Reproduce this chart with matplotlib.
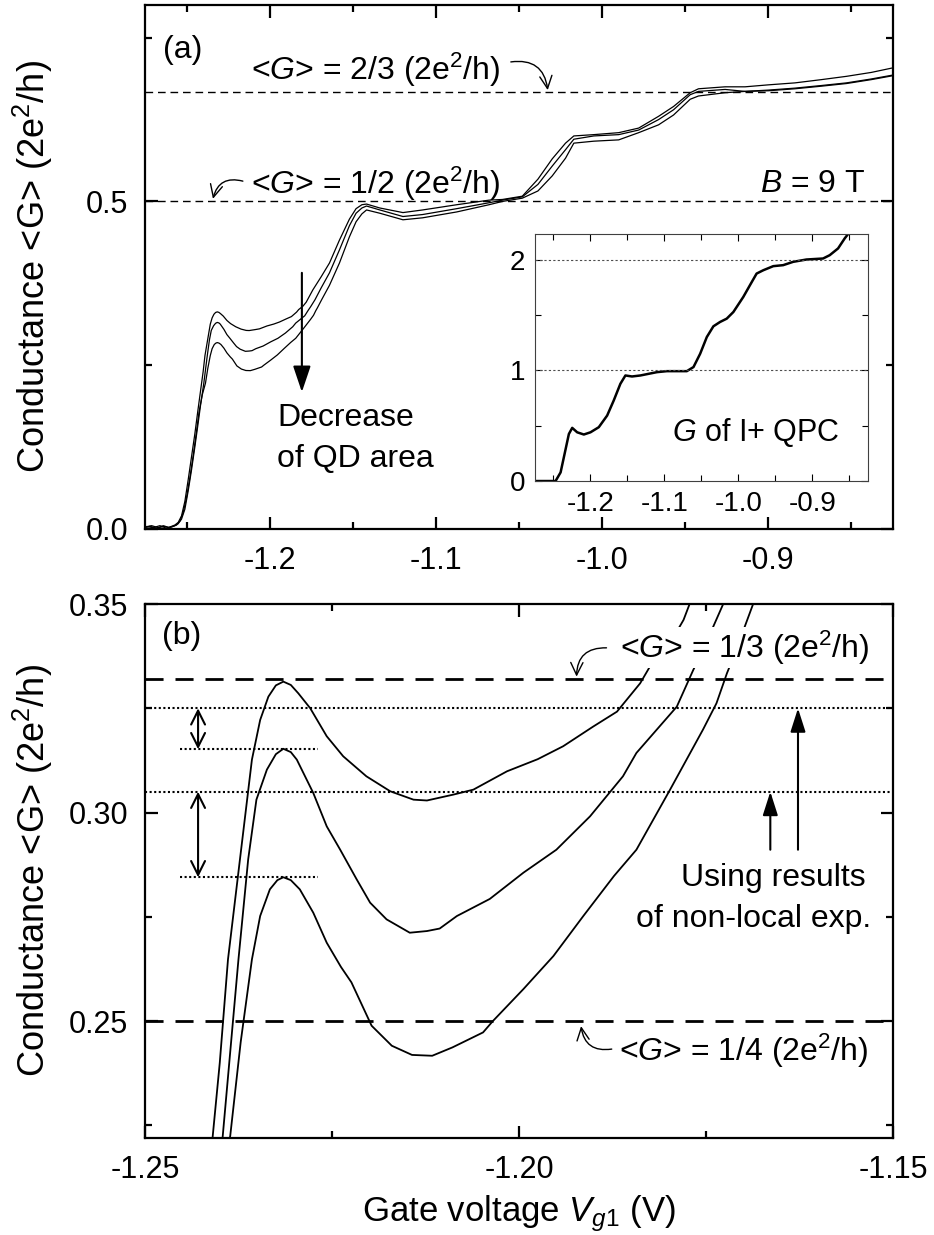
import numpy as np
import matplotlib.pyplot as plt
from matplotlib.ticker import FormatStrFormatter

plt.rcParams['font.family'] = ['Liberation Sans', 'DejaVu Sans']
plt.rcParams['mathtext.fontset'] = 'custom'
plt.rcParams['mathtext.rm'] = 'Liberation Sans'
plt.rcParams['mathtext.it'] = 'Liberation Sans:italic'
plt.rcParams['axes.unicode_minus'] = False

# ---- data ----
# three QD traces (gate voltage V, conductance in 2e^2/h)
v_top = [-1.275, -1.270, -1.266, -1.262, -1.259, -1.257, -1.255, -1.253, -1.251, -1.249,
         -1.247, -1.245, -1.2432, -1.2415, -1.2400, -1.2389, -1.2373, -1.2357, -1.2346, -1.2335,
         -1.2325, -1.2315, -1.2305, -1.2295, -1.2279, -1.2257, -1.2235, -1.2204, -1.2172, -1.2141,
         -1.2123, -1.2088, -1.2061, -1.2016, -1.1975, -1.1941, -1.1901, -1.1869, -1.1838, -1.1825,
         -1.1800, -1.1780, -1.174, -1.169, -1.164, -1.158, -1.152, -1.148, -1.1445, -1.1417,
         -1.1337, -1.1198, -1.108, -1.0874, -1.068, -1.060, -1.048, -1.0386, -1.030, -1.022,
         -1.017, -1.005, -0.990, -0.978, -0.966, -0.957, -0.947, -0.942, -0.926, -0.914,
         -0.900, -0.884, -0.868, -0.853, -0.838, -0.825]
g_top = [0.004, 0.002, 0.005, 0.001, 0.004, 0.006, 0.010, 0.020, 0.042, 0.075,
         0.110, 0.145, 0.180, 0.212, 0.240, 0.2648, 0.2888, 0.3127, 0.3222, 0.3278,
         0.3305, 0.3314, 0.3306, 0.3286, 0.3250, 0.3183, 0.3135, 0.3087, 0.3051, 0.3031,
         0.3029, 0.3043, 0.3055, 0.3099, 0.3128, 0.3159, 0.3206, 0.3242, 0.3310, 0.3350,
         0.340, 0.3462, 0.365, 0.385, 0.406, 0.441, 0.473, 0.489, 0.495, 0.496,
         0.490, 0.483, 0.487, 0.495, 0.502, 0.503, 0.508, 0.534, 0.565, 0.589,
         0.600, 0.602, 0.605, 0.612, 0.630, 0.645, 0.666, 0.672, 0.675, 0.675,
         0.678, 0.681, 0.686, 0.691, 0.697, 0.704]

v_mid = [-1.275, -1.271, -1.267, -1.263, -1.260, -1.257, -1.255, -1.253, -1.251, -1.249,
         -1.247, -1.245, -1.2432, -1.2415, -1.2396, -1.2375, -1.2362, -1.2351, -1.2337, -1.2325,
         -1.2315, -1.2305, -1.2297, -1.2275, -1.2257, -1.2239, -1.2217, -1.2199, -1.2177, -1.2146,
         -1.2123, -1.2106, -1.2083, -1.2039, -1.1994, -1.1950, -1.1905, -1.1861, -1.1843, -1.1789,
         -1.1767, -1.1754, -1.1727, -1.169, -1.164, -1.158, -1.152, -1.148, -1.1445, -1.1417,
         -1.1337, -1.1198, -1.108, -1.0874, -1.068, -1.060, -1.048, -1.0386, -1.030, -1.022,
         -1.017, -1.005, -0.990, -0.978, -0.966, -0.957, -0.947, -0.942, -0.926, -0.914,
         -0.900, -0.884, -0.868, -0.853, -0.838, -0.825]
g_mid = [0.003, 0.005, 0.002, 0.004, 0.002, 0.005, 0.008, 0.015, 0.030, 0.058,
         0.090, 0.125, 0.158, 0.190, 0.2225, 0.2648, 0.2888, 0.3031, 0.3103, 0.3140,
         0.3153, 0.3145, 0.3127, 0.3047, 0.2967, 0.2911, 0.2840, 0.2784, 0.2744, 0.2712,
         0.2716, 0.2722, 0.2752, 0.2793, 0.2856, 0.2911, 0.2991, 0.3087, 0.3143, 0.3254,
         0.3342, 0.3390, 0.350, 0.368, 0.391, 0.426, 0.463, 0.482, 0.490, 0.493,
         0.487, 0.477, 0.480, 0.489, 0.498, 0.502, 0.507, 0.526, 0.554, 0.579,
         0.595, 0.600, 0.602, 0.609, 0.625, 0.640, 0.663, 0.668, 0.671, 0.668,
         0.670, 0.673, 0.677, 0.681, 0.687, 0.693]

v_bot = [-1.275, -1.272, -1.268, -1.264, -1.261, -1.258, -1.256, -1.254, -1.252, -1.250,
         -1.248, -1.246, -1.2442, -1.2425, -1.2405, -1.2386, -1.2372, -1.2357, -1.2346, -1.2333,
         -1.2323, -1.2315, -1.2305, -1.2293, -1.2275, -1.2257, -1.2238, -1.2224, -1.2197, -1.2170,
         -1.2143, -1.2116, -1.2089, -1.2048, -1.2035, -1.1994, -1.1954, -1.1914, -1.1873, -1.1843,
         -1.1798, -1.1754, -1.1736, -1.1722, -1.1713, -1.1687, -1.164, -1.158, -1.152, -1.148,
         -1.1445, -1.1417, -1.1337, -1.1198, -1.108, -1.0874, -1.068, -1.060, -1.048, -1.0386,
         -1.030, -1.022, -1.017, -1.005, -0.990, -0.978, -0.966, -0.957, -0.947, -0.942,
         -0.926, -0.914, -0.900, -0.884, -0.868, -0.853, -0.838, -0.825]
g_bot = [0.002, 0.004, 0.001, 0.005, 0.002, 0.004, 0.006, 0.012, 0.025, 0.048,
         0.078, 0.112, 0.145, 0.178, 0.205, 0.2225, 0.245, 0.2648, 0.2752, 0.2816,
         0.2838, 0.2845, 0.2838, 0.2816, 0.2760, 0.2688, 0.2630, 0.2593, 0.2489, 0.2441,
         0.2419, 0.2417, 0.2437, 0.2473, 0.2500, 0.2577, 0.2656, 0.2752, 0.2848, 0.2911,
         0.3055, 0.3199, 0.3262, 0.3334, 0.3374, 0.350, 0.372, 0.406, 0.446, 0.469,
         0.481, 0.487, 0.482, 0.472, 0.475, 0.484, 0.495, 0.500, 0.505, 0.516,
         0.539, 0.566, 0.589, 0.592, 0.594, 0.605, 0.617, 0.632, 0.656, 0.661,
         0.666, 0.668, 0.669, 0.672, 0.676, 0.680, 0.686, 0.692]

# inset: G of I+ QPC
v_qpc = [-1.274, -1.2472, -1.2404, -1.2292, -1.2247, -1.218, -1.209, -1.200, -1.1888, -1.1775,
         -1.1686, -1.1596, -1.1528, -1.1439, -1.1326, -1.1102, -1.0967, -1.0698, -1.0608, -1.0518,
         -1.0428, -1.0339, -1.0249, -1.0159, -1.0069, -0.9935, -0.9845, -0.9755, -0.9665, -0.9530,
         -0.9396, -0.9261, -0.9081, -0.8857, -0.8767, -0.8654, -0.8565, -0.852]
g_qpc = [0.0, 0.0, 0.078, 0.425, 0.48, 0.44, 0.42, 0.44, 0.486, 0.591,
         0.727, 0.878, 0.953, 0.944, 0.953, 0.983, 0.992, 0.992, 1.029, 1.149,
         1.300, 1.397, 1.436, 1.466, 1.526, 1.662, 1.768, 1.873, 1.903, 1.940,
         1.949, 1.979, 2.000, 2.009, 2.039, 2.100, 2.190, 2.229]

# reference levels
g_frac_a = [2 / 3, 1 / 2]
g_frac_b = [0.332, 0.25]
g_peak_lines = [0.325, 0.305]
g_peak_short = [0.3152, 0.2845]
g_qpc_lines = [1, 2]

xt_a = [-1.2, -1.1, -1.0, -0.9]
xt_a_minor = [-1.25, -1.15, -1.05, -0.95, -0.85]
yt_a = [0.0, 0.5]
yt_a_minor = [0.25, 0.75]
xt_b = [-1.25, -1.20, -1.15]
xt_b_minor = [-1.225, -1.175]
yt_b = [0.25, 0.30, 0.35]
yt_b_minor = [0.225, 0.275, 0.325]
yt_in = [0, 1, 2]
yt_in_minor = [0.5, 1.5]

FS = 23
TICK = 22
LAB = 26


def style(ax, lmaj, lmin, lw, size, pad):
    ax.tick_params(which='both', direction='in', top=True, right=True,
                   width=lw, labelsize=size, pad=pad)
    ax.tick_params(which='major', length=lmaj)
    ax.tick_params(which='minor', length=lmin)
    for s in ax.spines.values():
        s.set_linewidth(lw)


def curved(ax, tip, start, rad):
    ax.annotate('', xy=tip, xytext=start,
                arrowprops=dict(arrowstyle='->,head_length=0.45,head_width=0.22',
                                connectionstyle='arc3,rad=%g' % rad, lw=1.0, color='k',
                                mutation_scale=20, shrinkA=0, shrinkB=0))


fig = plt.figure(figsize=(9.34, 12.35), dpi=100)
ax1 = fig.add_axes([0.1552, 0.5717, 0.8009, 0.4243])
ax2 = fig.add_axes([0.1552, 0.0786, 0.8009, 0.4323])
ins = fig.add_axes([0.5728, 0.6105, 0.3565, 0.2000])

# ---------- panel (a) ----------
for v, g in [(v_top, g_top), (v_mid, g_mid), (v_bot, g_bot)]:
    ax1.plot(v, g, color='k', lw=0.9)
for g in g_frac_a:
    ax1.axhline(g, color='k', lw=1.0, ls=(0, (5.5, 3.5)))
ax1.set_xlim(-1.275, -0.825)
ax1.set_ylim(0.0, 0.80)
ax1.set_xticks(xt_a)
ax1.set_xticks(xt_a_minor, minor=True)
ax1.set_yticks(yt_a)
ax1.set_yticks(yt_a_minor, minor=True)
ax1.xaxis.set_major_formatter(FormatStrFormatter('%.1f'))
ax1.yaxis.set_major_formatter(FormatStrFormatter('%.1f'))
style(ax1, 9, 5, 1.6, TICK, 12)
ax1.set_ylabel('Conductance <G> (2e$^2$/h)', fontsize=LAB)
ax1.yaxis.set_label_coords(-0.12, 0.5)

ax1.text(-1.2642, 0.731, '(a)', fontsize=FS, va='center')
ax1.text(-1.2113, 0.701, r'<$\mathit{G}$> = 2/3 (2e$^2$/h)', fontsize=FS, va='center')
curved(ax1, (-1.0327, 0.670), (-1.0549, 0.713), -0.5)
ax1.text(-1.2113, 0.527, r'<$\mathit{G}$> = 1/2 (2e$^2$/h)', fontsize=FS, va='center')
curved(ax1, (-1.2341, 0.504), (-1.2161, 0.531), 0.5)
ax1.text(-0.8414, 0.527, r'$\mathit{B}$ = 9 T', fontsize=FS, va='center', ha='right')
ax1.text(-1.1956, 0.1695, 'Decrease', fontsize=FS, va='center')
ax1.text(-1.1956, 0.107, 'of QD area', fontsize=FS, va='center')
ax1.annotate('', xy=(-1.1806, 0.209), xytext=(-1.1806, 0.391),
             arrowprops=dict(arrowstyle='-|>,head_length=0.8,head_width=0.27',
                             lw=1.5, color='k', mutation_scale=20,
                             shrinkA=0, shrinkB=0))

# ---------- inset ----------
ins.plot(v_qpc, g_qpc, color='k', lw=1.8)
for g in g_qpc_lines:
    ins.axhline(g, color='0.3', lw=0.8, ls=(0, (2, 2)))
ins.set_xlim(-1.275, -0.825)
ins.set_ylim(0, 2.23)
ins.set_xticks(xt_a)
ins.set_xticks(xt_a_minor, minor=True)
ins.set_yticks(yt_in)
ins.set_yticks(yt_in_minor, minor=True)
ins.xaxis.set_major_formatter(FormatStrFormatter('%.1f'))
ins.yaxis.set_major_formatter(FormatStrFormatter('%d'))
style(ins, 5, 4, 0.8, 20, 7)
for s in ins.spines.values():
    s.set_color('0.25')
ins.text(-1.0901, 0.44, r'$\mathit{G}$ of I+ QPC', fontsize=22, va='center')

# ---------- panel (b) ----------
for v, g in [(v_top, g_top), (v_mid, g_mid), (v_bot, g_bot)]:
    ax2.plot(v, g, color='k', lw=1.3)
for g in g_frac_b:
    ax2.axhline(g, color='k', lw=2.0, ls=(0, (6.5, 4.3)))
for g in g_peak_lines:
    ax2.axhline(g, color='k', lw=1.5, ls=(0, (1, 1.2)))
for g in g_peak_short:
    ax2.plot([-1.2453, -1.2269], [g, g], color='k', lw=1.5, ls=(0, (1, 1.2)))
ax2.set_xlim(-1.25, -1.15)
ax2.set_ylim(0.222, 0.35)
ax2.set_xticks(xt_b)
ax2.set_xticks(xt_b_minor, minor=True)
ax2.set_yticks(yt_b)
ax2.set_yticks(yt_b_minor, minor=True)
ax2.xaxis.set_major_formatter(FormatStrFormatter('%.2f'))
ax2.yaxis.set_major_formatter(FormatStrFormatter('%.2f'))
style(ax2, 9, 5, 1.6, TICK, 12)
ax2.set_ylabel('Conductance <G> (2e$^2$/h)', fontsize=LAB)
ax2.yaxis.set_label_coords(-0.12, 0.5)
ax2.set_xlabel(r'Gate voltage $\mathit{V}_{\mathit{g1}}$ (V)', fontsize=25, labelpad=6)

ax2.text(-1.2477, 0.3423, '(b)', fontsize=FS, va='center')
ax2.text(-1.1865, 0.3395, r'<$\mathit{G}$> = 1/3 (2e$^2$/h)', fontsize=FS, va='center',
         bbox=dict(facecolor='white', edgecolor='none', pad=1))
curved(ax2, (-1.1923, 0.3326), (-1.1883, 0.3395), 0.5)
ax2.text(-1.1866, 0.2428, r'<$\mathit{G}$> = 1/4 (2e$^2$/h)', fontsize=FS, va='center')
curved(ax2, (-1.1917, 0.2488), (-1.1876, 0.2433), -0.5)
ax2.text(-1.1536, 0.2844, 'Using results', fontsize=FS, va='center', ha='right')
ax2.text(-1.1529, 0.2744, 'of non-local exp.', fontsize=FS, va='center', ha='right')

# double arrows: peak heights vs. reference lines
for top, bot in zip(g_peak_lines, g_peak_short):
    ax2.annotate('', xy=(-1.2429, bot), xytext=(-1.2429, top),
                 arrowprops=dict(arrowstyle='<->,head_length=0.5,head_width=0.25',
                                 lw=1.5, color='k', mutation_scale=20,
                                 shrinkA=0, shrinkB=0))
# upward arrows
for x, g in [(-1.1664, g_peak_lines[1]), (-1.1627, g_peak_lines[0])]:
    ax2.annotate('', xy=(x, g), xytext=(x, 0.2911),
                 arrowprops=dict(arrowstyle='-|>,head_length=0.72,head_width=0.23',
                                 lw=1.5, color='k', mutation_scale=20,
                                 shrinkA=0, shrinkB=0))

fig.savefig('out.png', dpi=100)
